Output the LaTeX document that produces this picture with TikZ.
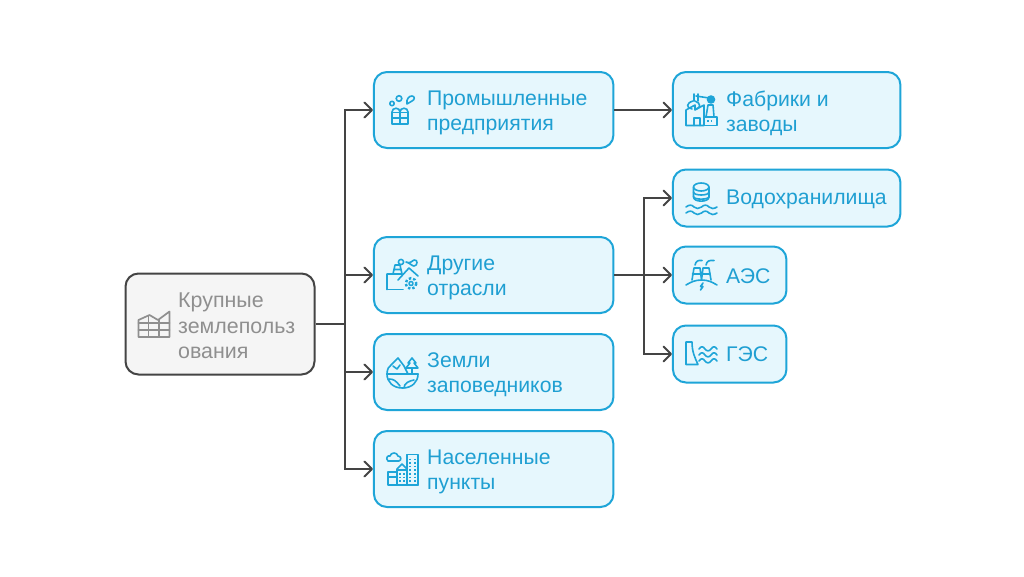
\documentclass[tikz,border=0pt]{standalone}
\usepackage{fontspec}
\setmainfont{Liberation Sans}
\usetikzlibrary{arrows.meta}
\definecolor{bl}{HTML}{1EA5D8}
\definecolor{blfill}{HTML}{E6F7FD}
\definecolor{blt}{HTML}{1F9FD2}
\definecolor{dk}{HTML}{444444}
\definecolor{gfill}{HTML}{F5F5F5}
\definecolor{gt}{HTML}{8F8F8F}
\tikzset{
  bluebox/.style={draw=bl,fill=blfill,line width=2pt,rounded corners=13pt,inner sep=0pt},
  greybox/.style={draw=dk,fill=gfill,line width=2pt,rounded corners=13pt,inner sep=0pt},
  bluetext/.style={text=blt,anchor=west,align=left,inner sep=0pt,font=\fontsize{21.2}{25}\selectfont},
  greytext/.style={text=gt,anchor=west,align=left,inner sep=0pt,font=\fontsize{21.4}{25.5}\selectfont},
  conn/.style={draw=dk,line width=2pt},
  arr/.style={conn,-{Straight Barb[length=7.5pt,width=15pt,line width=2pt,round]}},
  ic/.style={draw=bl,line width=1.6pt,line join=round,line cap=round,fill=none},
  igr/.style={draw=gt,line width=1.7pt,line join=round,line cap=round,fill=none},
}
\begin{document}
\begin{tikzpicture}[x=1pt,y=-1pt]
\useasboundingbox (0,0) rectangle (1024,576);
\fill[white] (0,0) rectangle (1024,576);

% boxes
\node[greybox,minimum width=189pt,minimum height=101pt] (root) at (220,324) {};
\node[bluebox,minimum width=239.5pt,minimum height=76pt] (prom) at (493.7,110) {};
\node[bluebox,minimum width=239.5pt,minimum height=76pt] (drug) at (493.7,275) {};
\node[bluebox,minimum width=239.5pt,minimum height=76pt] (zem) at (493.7,372) {};
\node[bluebox,minimum width=239.5pt,minimum height=76pt] (nas) at (493.7,469) {};
\node[bluebox,minimum width=227.5pt,minimum height=76pt] (fab) at (786.7,110) {};
\node[bluebox,minimum width=227.5pt,minimum height=57pt] (vod) at (786.7,198) {};
\node[bluebox,minimum width=113.5pt,minimum height=57pt] (aes) at (729.7,275) {};
\node[bluebox,minimum width=113.5pt,minimum height=57pt] (ges) at (729.7,354) {};

% connectors
\coordinate (j1) at (345,324);
\coordinate (j2) at (644,275);
\draw[conn] (root.east) -- (j1);
\draw[arr] (j1) |- (prom.west);
\draw[arr] (j1) |- (drug.west);
\draw[arr] (j1) |- (zem.west);
\draw[arr] (j1) |- (nas.west);
\draw[arr] (prom.east) -- (fab.west);
\draw[conn] (drug.east) -- (j2);
\draw[arr] (j2) |- (vod.west);
\draw[arr] (j2) -- (aes.west);
\draw[arr] (j2) |- (ges.west);

% texts
\node[greytext] (troot) at (178,326) {Крупные\\землепольз\\ования};
\node[bluetext] (tprom) at (427,113) {Промышленные\\предприятия};
\node[bluetext] (tdrug) at (427,278) {Другие\\отрасли};
\node[bluetext] (tzem) at (427,375) {Земли\\заповедников};
\node[bluetext] (tnas) at (427,472) {Населенные\\пункты};
\node[bluetext] (tfab) at (726,113) {Фабрики и\\заводы};
\node[bluetext] (tvod) at (726,199) {Водохранилища};
\node[bluetext] (taes) at (726,276) {АЭС};
\node[bluetext] (tges) at (726,354) {ГЭС};

% icon: greenhouse
\draw[igr] (138.5,337) -- (138.5,320) -- (149.5,315) -- (158,320) -- (169.5,311.5) -- (169.5,337) -- cycle;
\draw[igr] (138.5,323) -- (169.5,323) (138.5,330) -- (169.5,330);
\draw[igr] (148.5,316) -- (148.5,337) (159,320) -- (159,337);

% icon: prom
\draw[ic] (392,124) -- (392,112) .. controls (392,107) and (400,107) .. (400,112) -- (400,124) -- cycle;
\draw[ic] (400,124) -- (400,112) .. controls (400,107) and (408,107) .. (408,112) -- (408,124) -- cycle;
\draw[ic] (392,118) -- (408,118) (392,112.5) -- (408,112.5);
\draw[ic] (392,103.5) circle (2.2);
\draw[ic] (399,98.5) circle (2.8);
\draw[ic] (407,104) .. controls (406,99) and (409,96) .. (412,96) .. controls (415,96) and (415,100) .. (412,101) .. controls (410,102) and (409,103) .. (407,104) -- cycle;

% icon: drug
\draw[ic] (387,289.5) -- (387,274) -- (393,274) -- (395,265) -- (400,265) -- (402,274) (393,274) -- (402,274) (394,269.5) -- (401,269.5);
\draw[ic] (387,289.5) -- (403,289.5);
\draw[ic] (398,280) -- (409,268) -- (418,276);
\draw[ic] (401,262) circle (2.6);
\draw[ic] (406,262) .. controls (410,264) and (412,261) .. (414,260) .. controls (418,259) and (418,266) .. (414,266) .. controls (412,266) and (410,263) .. (406,262);
\draw[ic] (411,283.5) circle (2);
\draw[ic,line width=2.4pt,dash pattern=on 2.4pt off 2.1pt,line cap=butt] (411,283.5) circle (5.4);

% icon: zem
\draw[ic] (387,374) .. controls (387,382) and (393,388) .. (402.5,388) .. controls (412,388) and (418,382) .. (418,374);
\draw[ic] (387,374) -- (418,374);
\draw[ic] (387,374) .. controls (387,369) and (389,366) .. (392,364) -- (398,358) -- (404,366) -- (408,374);
\draw[ic] (412,358) -- (408,363) -- (410,363) -- (406,368) -- (418,368) -- (414,363) -- (416,363) -- cycle;
\draw[ic] (412,368) -- (412,374);
\draw[ic] (393,366) -- (397,369) -- (400,365);
\draw[ic] (389,379) .. controls (394,379) and (396,381) .. (400,386);
\draw[ic] (404,388) .. controls (404,383) and (409,381) .. (414,380);

% icon: nas
\draw[ic] (407,485) -- (407,454.5) -- (418,454.5) -- (418,485) -- cycle;
\draw[ic] (388,485) -- (388,472) -- (397,472) (388,477) -- (397,477) (388,485) -- (418,485);
\draw[ic] (397,485) -- (397,469) -- (402,464) -- (407,469);
\draw[ic] (397,470) -- (407,470);
\draw[ic,dotted,line width=1.8pt,line cap=butt] (410,458.5) -- (410,482) (415,458.5) -- (415,482);
\draw[ic,dotted,line width=1.8pt,line cap=butt] (400,473) -- (400,482) (404,473) -- (404,482);
\draw[ic] (388,461) .. controls (385,458) and (388,455) .. (390,456) .. controls (391,452) and (397,452) .. (398,456) .. controls (401,456) and (402,460) .. (399,461) -- cycle;

% icon: fab
\draw[ic] (686,125.5) -- (686,110) -- (695,105) -- (695,110) -- (704,105) -- (704,125.5) -- cycle;
\draw[ic] (704,125.5) -- (717,125.5) -- (717,117) -- (704,117);
\draw[ic] (694,125.5) -- (694,118) -- (700,118) -- (700,125.5);
\draw[ic,dotted,line width=1.8pt,line cap=butt] (707,121) -- (714,121);
\draw[ic] (706,117) -- (708,105) -- (713,105) -- (714,117);
\fill[bl] (711,99.5) circle (4.3);
\draw[ic] (696,96) -- (709,98);
\draw[ic] (694,94) -- (694,101) (698,94) -- (698,101);
\draw[ic] (693,101) .. controls (686,103) and (686,108) .. (692,109) (695,101) .. controls (701,103) and (701,108) .. (696,109);

% icon: vod
\draw[ic] (693.5,187) -- (693.5,197) .. controls (693.5,202.5) and (709,202.5) .. (709,197) -- (709,187);
\draw[ic] (701.2,187) ellipse (7.7 and 4);
\draw[ic] (693.5,192) .. controls (693.5,196) and (709,196) .. (709,192);
\draw[ic] (693.5,196.5) .. controls (693.5,200) and (709,200) .. (709,196.5);
\draw[ic] (686,207) .. controls (689,204.5) and (692,204.5) .. (694,207) .. controls (696,209) and (699,209) .. (701.5,207) .. controls (704,204.5) and (707,204.5) .. (709,207) .. controls (711,209) and (714,209) .. (717,207);
\draw[ic] (686,213) .. controls (689,210.5) and (692,210.5) .. (694,213) .. controls (696,215) and (699,215) .. (701.5,213) .. controls (704,210.5) and (707,210.5) .. (709,213) .. controls (711,215) and (714,215) .. (717,213);

% icon: aes
\draw[ic] (686,285) .. controls (691,282) and (695,280) .. (701.5,280) .. controls (708,280) and (712,282) .. (717,285);
\draw[ic] (692,280) -- (694,268) -- (700,268) -- (701.5,280) -- (703,268) -- (709,268) -- (711,280);
\draw[ic] (692.5,274) -- (710,274);
\draw[ic] (695,265) .. controls (696,261) and (698,260) .. (702,260.5);
\draw[ic] (706,265) .. controls (707,261) and (709,260) .. (714,260.5);
\draw[ic] (703,283) -- (700.5,286.5) -- (703,286.5) -- (700.5,290);

% icon: ges
\draw[ic] (686,342) -- (692,342) .. controls (692,352) and (695,358) .. (698,364.5) -- (686,364.5) -- cycle;
\foreach \yy in {349,355,361}{
\draw[ic] (699,\yy) .. controls (701,\yy-3) and (703,\yy-3) .. (705,\yy) .. controls (707,\yy+2.5) and (709,\yy+2.5) .. (711,\yy) .. controls (713,\yy-3) and (715,\yy-3) .. (717,\yy);
}
\end{tikzpicture}
\end{document}
